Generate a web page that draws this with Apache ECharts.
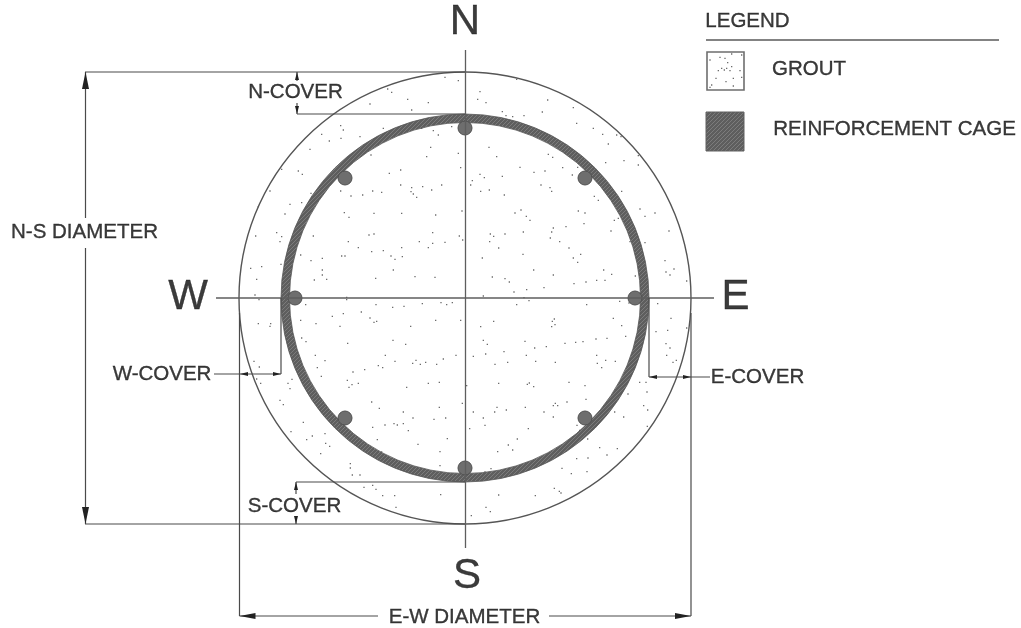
<!DOCTYPE html>
<html><head><meta charset="utf-8">
<style>html,body{margin:0;padding:0;background:#fff}#c{width:1021px;height:628px;filter:blur(0.35px)}</style>
<script src="https://cdn.jsdelivr.net/npm/echarts@6/dist/echarts.min.js"></script>
</head><body><div id="c"></div>
<script>
// Circles: centre x, centre y, radius
const groutCircle=[[465,298,226]];
const cageRing=[[465,298,184,175.5]];
const rebars=[[465,128,7],[345,178,7],[585,178,7],[295,298,7],[635,298,7],[345,418,7],[585,418,7],[465,468,7]];
// Straight lines: x1,y1,x2,y2
const centreLines=[[216,298,714,298],[465.5,50,465.5,548]];
const dimensionLines=[
 [85,72,465,72],[85,524,465,524],[85.5,72,85.5,218],[85.5,248,85.5,524],
 [297,72,297,81],[297,103,297,114],[297,114,465,114],
 [296,482,465,482],[296,482,296,494],[296,516,296,524],
 [214,374,281,374],[281,298,281,374],
 [649,298,649,377],[649,377,710,377],
 [239.5,313,239.5,616],[691,313,691,616],
 [239.5,616,378,616],[549,616,691,616]];
const legendRule=[[706,40,999,40]];
// Arrowheads: tip x, tip y, direction x, direction y, length, half width
const arrowHeads=[
 [85.5,72,0,-1,17,3.5],[85.5,524,0,1,17,3.5],
 [297,72,0,-1,8,2],[297,114,0,1,8,2],[296,482,0,-1,8,2],[296,524,0,1,8,2],
 [240,374,-1,0,8,2],[281,374,1,0,8,2],[649,377,-1,0,8,2],[691,377,1,0,8,2],
 [239.5,616,-1,0,16,3],[691,616,1,0,16,3]];
// Legend swatches: x, y, width, height
const legendSwatches=[[707,52,37,38,'grout'],[706,112,38,39,'cage']];
// Texts: x, y, text
const bigLabels=[[465,22,'N'],[467,576,'S'],[735.5,297,'E'],[188,297,'W']];
const smallLabels=[[747.5,21,'LEGEND'],[809,69,'GROUT'],[894.5,129,'REINFORCEMENT CAGE'],
 [84.5,232,'N-S DIAMETER'],[295.5,92,'N-COVER'],[294.5,506,'S-COVER'],[162,374,'W-COVER'],[757.5,377,'E-COVER'],[464.5,617,'E-W DIAMETER']];
// Grout speckles, read per quadrant of the picture, in 3x crop pixels
const speckNW=[[645,52],[685,62],[473,87],[485,97],[533,118],[595,128],[420,132],[545,150],[332,197],[340,210],[275,223],[333,235],[298,243],[390,230],[460,205],[575,205],[610,212],[625,225],[665,200],[602,262],[590,290],[685,280],[423,285],[240,268],[155,328],[205,333],[217,343],[512,330],[478,340],[692,323],[120,393],[85,440],[180,433],[215,428],[165,462],[243,400],[332,393],[363,408],[398,405],[428,393],[455,397],[512,375],[545,383],[578,380],[635,375],[605,390],[543,395],[550,402],[560,412],[696,453],[343,458],[357,472],[432,460],[515,460],[617,465],[140,518],[155,530],[150,545],[77,528],[250,528],[417,525],[432,522],[608,518],[688,528],[698,540],[355,545],[385,563],[568,545],[608,550],[645,547],[515,563],[595,563],[425,575],[460,572],[335,588],[345,588],[483,588],[495,598],[517,590],[212,585],[243,602],[277,595],[277,630],[277,645],[153,613],[62,625],[95,620],[80,658],[253,660],[290,658],[437,655],[490,630],[555,650],[615,652],[75,705],[350,712]];
const speckNE=[[155,58],[45,95],[38,118],[63,128],[248,120],[325,143],[112,155],[123,167],[143,170],[177,167],[232,156],[335,190],[385,205],[413,223],[455,225],[468,230],[430,252],[72,262],[95,290],[250,283],[263,292],[520,287],[477,302],[422,308],[520,315],[165,322],[293,323],[338,322],[207,337],[240,333],[45,343],[58,353],[112,349],[322,345],[22,362],[17,375],[228,375],[255,383],[260,394],[47,394],[73,390],[118,405],[388,409],[400,421],[470,394],[525,447],[168,450],[150,459],[340,453],[360,459],[184,469],[195,481],[540,469],[570,459],[448,481],[460,475],[357,491],[303,500],[265,504],[260,516],[175,516],[438,513],[612,513],[76,522],[86,529],[120,522],[256,534],[74,545],[284,545],[495,545],[540,548],[101,564],[312,564],[347,583],[174,583],[52,594],[325,594],[338,607],[600,602],[627,627],[603,636],[615,645],[206,630],[416,630],[440,643],[265,645],[511,648],[665,663],[82,651],[120,656],[133,666],[237,683],[327,671],[363,666],[395,661],[420,661],[185,689],[147,696],[55,708],[177,713]];
const speckSW=[[87,5],[227,20],[350,5],[438,20],[488,28],[522,25],[577,17],[633,14],[650,20],[667,14],[394,42],[340,47],[307,55],[420,60],[440,70],[432,73],[617,67],[692,67],[212,67],[85,77],[122,77],[120,85],[258,77],[330,85],[542,85],[215,120],[228,131],[353,136],[489,127],[527,139],[256,172],[466,172],[678,172],[285,188],[72,190],[640,183],[558,187],[495,190],[548,196],[571,199],[587,193],[620,199],[445,203],[458,209],[88,207],[262,209],[404,215],[369,222],[274,235],[352,247],[366,260],[385,256],[357,268],[530,268],[595,256],[628,253],[80,243],[92,256],[186,244],[174,256],[180,272],[150,307],[160,320],[425,312],[697,316],[448,331],[628,328],[520,342],[549,360],[612,364],[647,360],[465,381],[492,377],[502,381],[520,377],[428,388],[535,398],[220,373],[183,401],[285,407],[247,414],[230,425],[442,425],[652,422],[287,436],[299,445],[564,439],[272,467],[630,461],[361,497],[361,510],[367,531],[390,531],[630,503],[402,568],[428,562],[438,574],[458,593],[494,593],[632,590],[498,628],[455,462]];
const speckSE=[[155,20],[192,8],[365,20],[464,10],[492,15],[578,17],[445,61],[268,63],[262,70],[270,80],[260,86],[86,70],[47,86],[618,61],[608,97],[573,101],[470,83],[665,90],[482,115],[55,127],[67,139],[180,130],[393,123],[426,121],[300,136],[332,133],[354,131],[244,146],[209,150],[603,137],[615,150],[117,161],[62,168],[25,175],[184,172],[605,172],[395,172],[634,187],[624,193],[422,187],[212,190],[128,193],[271,193],[451,190],[397,196],[410,209],[90,199],[101,256],[187,259],[193,255],[206,266],[312,253],[360,263],[524,253],[543,253],[546,282],[489,288],[5,263],[363,304],[306,312],[271,316],[265,323],[278,323],[181,328],[124,336],[96,328],[89,342],[25,342],[237,342],[449,342],[536,323],[548,336],[55,360],[265,357],[476,357],[60,382],[14,392],[190,392],[336,382],[547,385],[344,397],[157,423],[130,441],[143,456],[98,461],[368,423],[404,449],[457,452],[426,471],[335,482],[369,480],[366,521],[291,511],[319,527],[78,512],[60,522],[268,571],[283,580],[288,585],[101,591],[211,593],[63,628],[76,641],[19,653]];
const speckLegend=[[90,172],[105,175],[113,188],[95,205],[103,210],[85,212],[110,205],[125,200],[120,212],[150,212],[155,232],[78,235],[108,245],[130,235],[65,255],[130,258],[60,180],[125,162],[155,165],[60,262]];

const crop=(list,ox,oy)=>list.map(p=>[ox+p[0]/3,oy+p[1]/3]);
const speckles=[].concat(crop(speckNW,230,60),crop(speckNE,465,60),crop(speckSW,230,298),crop(speckSE,465,298),crop(speckLegend,690,0));

function hatch(){
  const c=document.createElement('canvas');c.width=c.height=4;
  const g=c.getContext('2d');g.fillStyle='#5e5e5e';g.fillRect(0,0,4,4);
  g.fillStyle='#7c7c7c';[[0,3],[1,2],[2,1],[3,0]].forEach(p=>g.fillRect(p[0],p[1],1,1));
  return c;
}
const hatchFill={image:hatch(),repeat:'repeat'};

function lineSeries(id,list,color,width){
  return {type:'custom',id:id,coordinateSystem:'cartesian2d',silent:true,data:list,
    encode:{x:[0,2],y:[1,3]},clip:false,
    renderItem:(p,api)=>{
      const a=api.coord([api.value(0),api.value(1)]),b=api.coord([api.value(2),api.value(3)]);
      return {type:'line',shape:{x1:a[0],y1:a[1],x2:b[0],y2:b[1]},style:{stroke:color,lineWidth:width,fill:null}};
    }};
}
function textSeries(id,list,size){
  return {type:'scatter',id:id,silent:true,symbolSize:0,data:list.map(d=>({value:[d[0],d[1]],name:d[2]})),
    label:{show:true,position:'inside',formatter:'{b}',align:'center',verticalAlign:'middle',
      fontFamily:'"Liberation Sans",Arial,sans-serif',fontSize:size,color:'#0a0a0a',
      textBorderColor:'#0a0a0a',textBorderWidth:0.35}};
}
const chart=echarts.init(document.getElementById('c'),null,{renderer:'canvas'});
chart.setOption({
  animation:false,backgroundColor:'#fff',
  grid:{left:0,right:0,top:0,bottom:0},
  xAxis:{type:'value',min:0,max:1021,show:false},
  yAxis:{type:'value',min:0,max:628,inverse:true,show:false},
  series:[
    {type:'custom',id:'swatches',silent:true,data:legendSwatches,encode:{x:0,y:1},
     renderItem:(p,api)=>{
       const a=api.coord([api.value(0),api.value(1)]),s=api.size([api.value(2),api.value(3)]);
       const grout=legendSwatches[p.dataIndex][4]==='grout';
       return {type:'rect',shape:{x:a[0],y:a[1],width:s[0],height:s[1]},
         style:grout?{fill:'#fff',stroke:'#6e6e6e',lineWidth:1.6}:{fill:hatchFill,stroke:'#606060',lineWidth:1}};
     }},
    {type:'scatter',id:'grout-speckles',silent:true,symbol:'rect',symbolSize:1.3,data:speckles,itemStyle:{color:'#444'},z:2},
    {type:'custom',id:'grout',silent:true,data:groutCircle,encode:{x:0,y:1},z:3,
     renderItem:(p,api)=>{
       const c=api.coord([api.value(0),api.value(1)]),r=api.size([api.value(2),0])[0];
       return {type:'circle',shape:{cx:c[0],cy:c[1],r:r},style:{fill:null,stroke:'#555',lineWidth:1.4}};
     }},
    {type:'custom',id:'cage',silent:true,data:cageRing,encode:{x:0,y:1},z:3,
     renderItem:(p,api)=>{
       const c=api.coord([api.value(0),api.value(1)]);
       return {type:'ring',shape:{cx:c[0],cy:c[1],r:api.size([api.value(2),0])[0],r0:api.size([api.value(3),0])[0]},
         style:{fill:hatchFill,stroke:'#555',lineWidth:0.8}};
     }},
    {type:'custom',id:'rebars',silent:true,data:rebars,encode:{x:0,y:1},z:4,
     renderItem:(p,api)=>{
       const c=api.coord([api.value(0),api.value(1)]),r=api.size([api.value(2),0])[0];
       return {type:'circle',shape:{cx:c[0],cy:c[1],r:r},style:{fill:'#6e6e6e',stroke:'#505050',lineWidth:1}};
     }},
    Object.assign(lineSeries('centre-lines',centreLines,'#5e5e5e',1.3),{z:5}),
    Object.assign(lineSeries('dimensions',dimensionLines,'#4a4a4a',1.2),{z:5}),
    Object.assign(lineSeries('legend-rule',legendRule,'#5a5a5a',1.3),{z:5}),
    {type:'custom',id:'arrows',silent:true,data:arrowHeads,encode:{x:0,y:1},z:5,
     renderItem:(p,api)=>{
       const t=[api.value(0),api.value(1)],dx=api.value(2),dy=api.value(3),l=api.value(4),w=api.value(5);
       const pts=[t,[t[0]-dx*l-dy*w,t[1]-dy*l-dx*w],[t[0]-dx*l+dy*w,t[1]-dy*l+dx*w]].map(q=>api.coord(q));
       return {type:'polygon',shape:{points:pts},style:{fill:'#222'}};
     }},
    Object.assign(textSeries('big-text',bigLabels,42),{z:6}),
    Object.assign(textSeries('small-text',smallLabels,20.5),{z:6})
  ]
});
</script></body></html>
